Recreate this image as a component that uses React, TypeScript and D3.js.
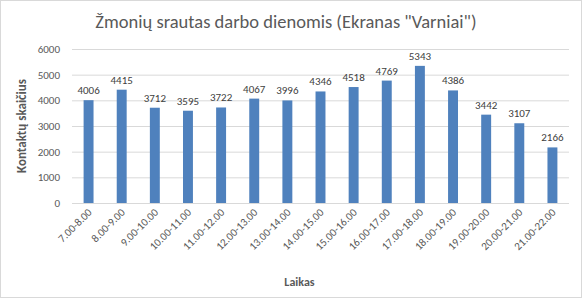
import React from "react";
import * as d3 from "d3";

const categories = ["7.00-8.00","8.00-9.00","9.00-10.00","10.00-11.00","11.00-12.00","12.00-13.00","13.00-14.00","14.00-15.00","15.00-16.00","16.00-17.00","17.00-18.00","18.00-19.00","19.00-20.00","20.00-21.00","21.00-22.00"];
const values = [4006,4415,3712,3595,3722,4067,3996,4346,4518,4769,5343,4386,3442,3107,2166];
const yTicks = [0,1000,2000,3000,4000,5000,6000];
const title = "Žmonių srautas darbo dienomis (Ekranas \"Varniai\")";
const xTitle = "Laikas";
const yTitle = "Kontaktų skaičius";

export default function App() {
  const W = 584, H = 300;
  const left = 72, right = 569, top = 49, bottom = 203;
  const x = d3.scaleBand<string>().domain(categories).range([left, right]).paddingInner(0.7).paddingOuter(0.35);
  const y = d3.scaleLinear().domain([0, 6000]).range([bottom, top]);
  const font = "Carlito, Calibri, Lato, 'Open Sans', sans-serif";
  return (
    <svg width={W} height={H} style={{ position: "absolute", left: 0, top: 0, fontFamily: font }}>
      <rect x={0.5} y={0.5} width={581} height={297} fill="#fff" stroke="#d9d9d9" />
      <text x={W / 2 - 6} y={28} textAnchor="middle" fontSize={18.5} fill="#595959">{title}</text>
      {yTicks.map(t => (
        <g key={t}>
          <line x1={left} x2={right} y1={y(t) + 0.5} y2={y(t) + 0.5} stroke="#d9d9d9" />
          <text x={left - 12} y={y(t) + 4} textAnchor="end" fontSize={11} fill="#595959">{t}</text>
        </g>
      ))}
      {categories.map((c, i) => {
        const bx = x(c)!;
        const cx = bx + x.bandwidth() / 2;
        return (
          <g key={c}>
            <rect x={bx} y={y(values[i])} width={x.bandwidth()} height={bottom - y(values[i])} fill="#4f81bd" />
            <text x={cx} y={y(values[i]) - 6} textAnchor="middle" fontSize={11} fill="#404040">{values[i]}</text>
            <text transform={`translate(${cx + 4},${bottom + 10}) rotate(-45)`} textAnchor="end" fontSize={11} fill="#595959">{c}</text>
          </g>
        );
      })}
      <text x={(left + right) / 2 - 21} y={286} textAnchor="middle" fontSize={12} fontWeight="bold" fill="#595959">{xTitle}</text>
      <text transform={`translate(26,${(top + bottom) / 2}) rotate(-90)`} textAnchor="middle" fontSize={13} fontWeight="bold" fill="#595959">{yTitle}</text>
    </svg>
  );
}
